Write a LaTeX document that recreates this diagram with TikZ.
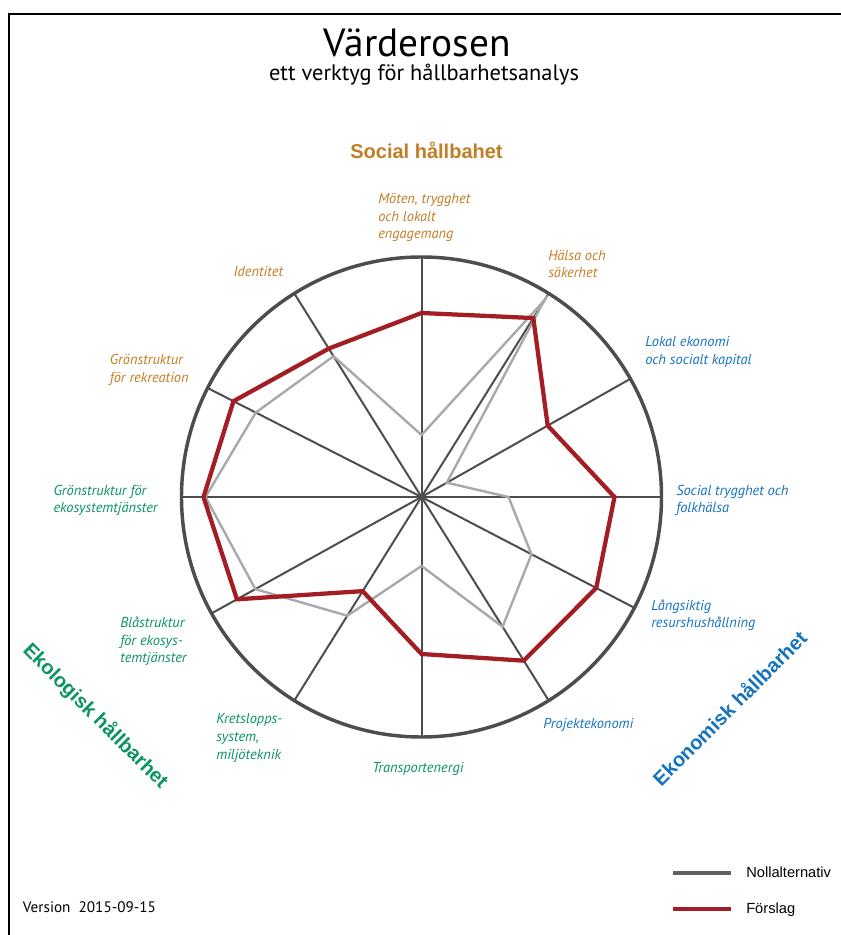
\documentclass[tikz,border=0pt]{standalone}
\usepackage{fontspec}
\setmainfont{PT Sans}
\newfontfamily\helv{Liberation Sans}

\definecolor{rosegray}{RGB}{77,77,79}
\definecolor{nollgray}{RGB}{167,169,172}
\definecolor{legendgray}{RGB}{95,96,98}
\definecolor{rosered}{RGB}{163,30,36}
\definecolor{socialorange}{RGB}{192,126,36}
\definecolor{ekonblue}{RGB}{20,115,190}
\definecolor{ekolgreen}{RGB}{10,148,95}

\tikzset{
	spoke/.style={rosegray, line width=1.5pt},
	rim/.style={rosegray, line width=2.6pt},
	nollalt/.style={nollgray, line width=1.8pt},
	forslag/.style={rosered, line width=3.2pt},
	lbl/.style={anchor=west, align=left, inner sep=0pt, font=\fontsize{10.8}{13.2}\selectfont\itshape},
	heading/.style={inner sep=0pt, font=\helv\fontsize{15}{18}\selectfont\bfseries},
	legendtxt/.style={anchor=west, inner sep=0pt, font=\helv\fontsize{11}{13}\selectfont},
}

\begin{document}
\begin{tikzpicture}[x=0.75pt,y=0.75pt]
	\useasboundingbox (-421.5,-438) rectangle (419.5,497);
	\draw [line width=1.8pt] (-412.5,-450) -- (-412.5,483) -- (430,483);

	\draw (-4,440) node[anchor=base, inner sep=0pt, font=\fontsize{29.5}{34}\selectfont] (title) {Värderosen};
	\draw (2.5,416) node[anchor=base, inner sep=0pt, font=\fontsize{16.8}{19}\selectfont] (subtitle) {ett verktyg för hållbarhetsanalys};

	% the rose
	\coordinate (c) at (0,0);
	\foreach \a in {90,58,29.5,0,-27.5,-58,-90,-122,-151,180,153,122}
		\draw [spoke] (c) -- (\a:240);
	\draw [nollalt] (90:62) -- (58:232) -- (29.5:29) -- (0:87) -- (-27.5:124) -- (-58:153) -- (-90:69) -- (-122:140) -- (-151:190) -- (180:216) -- (153:186) -- (122:166) -- cycle;
	\draw [forslag] (90:184) -- (58:211) -- (29.5:145) -- (0:193) -- (-27.5:197) -- (-58:193) -- (-90:157) -- (-122:111) -- (-151:211) -- (180:218) -- (153:211) -- (122:175) -- cycle;
	\draw [rim] (c) circle (240);

	\draw (5,347) node[heading, text=socialorange] (social) {Social hållbahet};
	\draw (307.5,-211) node[heading, text=ekonblue, rotate=45] (ekonomisk) {Ekonomisk hållbarhet};
	\draw (-326,-219) node[heading, text=ekolgreen, rotate=-45] (ekologisk) {Ekologisk hållbarhet};

	\draw (-43.5,279.5) node[lbl, text=socialorange] (moten) {Möten, trygghet\\och lokalt\\engagemang};
	\draw (126.5,233) node[lbl, text=socialorange] (halsa) {Hälsa och\\säkerhet};
	\draw (223.5,145.3) node[lbl, text=ekonblue] (lokal) {Lokal ekonomi\\och socialt kapital};
	\draw (254.5,-3.5) node[lbl, text=ekonblue] (trygghet) {Social trygghet och\\folkhälsa};
	\draw (229.5,-118.3) node[lbl, text=ekonblue] (resurs) {Långsiktig\\resurshushållning};
	\draw (121.5,-228) node[lbl, text=ekonblue] (projekt) {Projektekonomi};
	\draw (-49.5,-272) node[lbl, text=ekolgreen] (transport) {Transportenergi};
	\draw (-205.5,-241) node[lbl, text=ekolgreen] (kretslopp) {Kretslopps-\\system,\\miljöteknik};
	\draw (-301.5,-144.3) node[lbl, text=ekolgreen] (bla) {Blåstruktur\\för ekosys-\\temtjänster};
	\draw (-368.2,-3.5) node[lbl, text=ekolgreen] (gronekos) {Grönstruktur för\\ekosystemtjänster};
	\draw (-312,127) node[lbl, text=socialorange] (gronrek) {Grönstruktur\\för rekreation};
	\draw (-188.2,225.3) node[lbl, text=socialorange] (identitet) {Identitet};

	% legend
	\coordinate (nollA) at (251.5,-375.7);
	\coordinate (nollB) at (309.5,-375.7);
	\coordinate (forsA) at (251.5,-412.3);
	\coordinate (forsB) at (309.5,-412.3);
	\draw [legendgray, line width=3pt] (nollA) -- (nollB);
	\draw [rosered, line width=3pt] (forsA) -- (forsB);
	\draw (324.5,-375.7) node[legendtxt] (nolltxt) {Nollalternativ};
	\draw (324.5,-412.3) node[legendtxt] (forstxt) {Förslag};

	\draw (-398.8,-410.3) node[anchor=west, inner sep=0pt, font=\fontsize{11.4}{13}\selectfont] (version) {Version\ \ 2015-09-15};
\end{tikzpicture}
\end{document}
